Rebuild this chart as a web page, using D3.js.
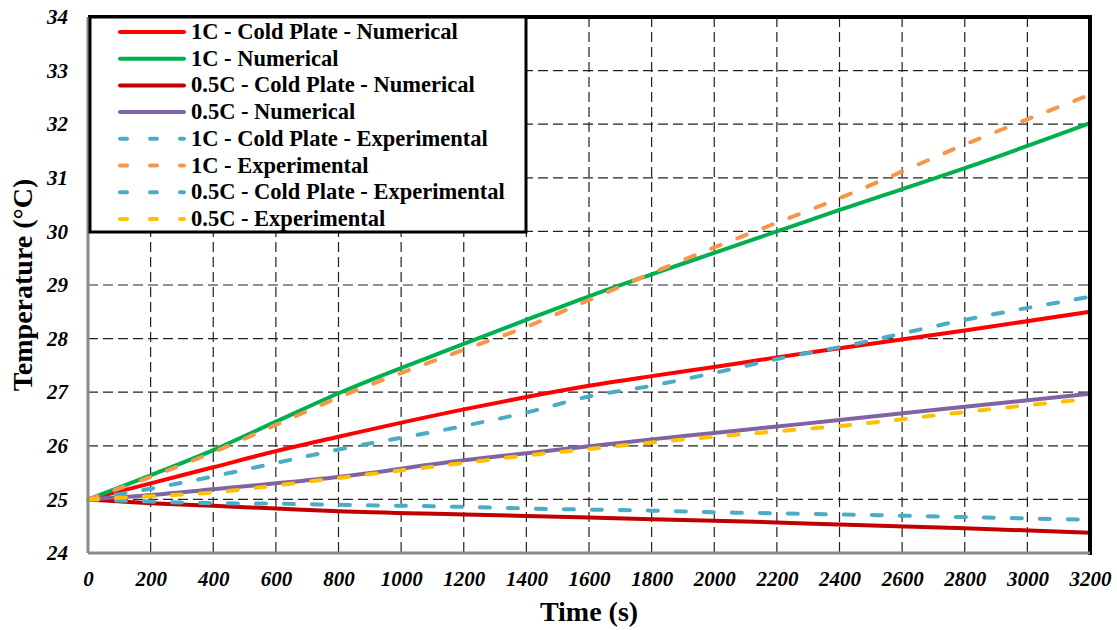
<!DOCTYPE html>
<html>
<head>
<meta charset="utf-8">
<script src="https://d3js.org/d3.v7.min.js"></script>
<style>
  body { margin: 0; background: #fff; }
  text { font-family: "Liberation Serif", "Times New Roman", serif; }
</style>
</head>
<body>
<script>
  var w = 1117
  var h = 630
  var margin = { top: 17, right: 27, bottom: 77, left: 88 }

  // time steps (s)
  var times = [0, 200, 400, 600, 800, 1200, 1400, 1600, 1800, 2000, 2200, 2400, 2800, 3200]

  // series values (°C)
  var cp1Num = [25, 25.3, 25.6, 25.9, 26.17, 26.68, 26.91, 27.12, 27.3, 27.47, 27.65, 27.82, 28.15, 28.5]
  var num1 = [25, 25.45, 25.92, 26.45, 26.98, 27.9, 28.35, 28.79, 29.2, 29.6, 30.0, 30.4, 31.18, 32.02]
  var cp05Num = [25, 24.93, 24.88, 24.83, 24.78, 24.72, 24.69, 24.66, 24.63, 24.6, 24.57, 24.53, 24.46, 24.38]
  var num05 = [25, 25.08, 25.19, 25.3, 25.42, 25.73, 25.86, 25.99, 26.12, 26.24, 26.36, 26.48, 26.73, 26.97]
  var cp1Exp = [25, 25.2, 25.43, 25.68, 25.93, 26.37, 26.62, 26.92, 27.12, 27.36, 27.62, 27.84, 28.35, 28.78]
  var exp1 = [25, 25.42, 25.88, 26.39, 26.9, 27.79, 28.22, 28.72, 29.22, 29.7, 30.16, 30.62, 31.62, 32.55]
  var cp05Exp = [25, 24.96, 24.93, 24.92, 24.9, 24.86, 24.83, 24.81, 24.79, 24.76, 24.74, 24.72, 24.67, 24.62]
  var exp05 = [25, 25.06, 25.13, 25.26, 25.4, 25.68, 25.82, 25.94, 26.06, 26.17, 26.27, 26.37, 26.63, 26.88]

  var xTicks = d3.range(0, 3201, 200)
  var yTicks = d3.range(24, 35, 1)

  var series = [
    { name: "1C - Cold Plate - Numerical", values: cp1Num, color: "#ff0000", dash: null },
    { name: "1C - Numerical", values: num1, color: "#00b050", dash: null },
    { name: "0.5C - Cold Plate - Numerical", values: cp05Num, color: "#c00000", dash: null },
    { name: "0.5C - Numerical", values: num05, color: "#8064a2", dash: null },
    { name: "1C - Cold Plate - Experimental", values: cp1Exp, color: "#4bacc6", dash: "10,18" },
    { name: "1C - Experimental", values: exp1, color: "#f79646", dash: "10,18" },
    { name: "0.5C - Cold Plate - Experimental", values: cp05Exp, color: "#4bacc6", dash: "10,18" },
    { name: "0.5C - Experimental", values: exp05, color: "#ffc000", dash: "10,18" }
  ]

  var pw = w - margin.left - margin.right
  var ph = h - margin.top - margin.bottom

  //SCALES
  var x = d3.scaleLinear().domain([0, 3200]).range([0, pw])
  var y = d3.scaleLinear().domain([24, 34]).range([ph, 0])

  var svg = d3.select("body").append("svg")
      .attr("width", w)
      .attr("height", h)

  var g = svg.append("g")
      .attr("transform", "translate(" + margin.left + "," + margin.top + ")")

  //GRID
  g.selectAll(".vgrid")
      .data(xTicks.slice(1, -1))
      .enter().append("line")
      .attr("x1", function (d) { return x(d) })
      .attr("x2", function (d) { return x(d) })
      .attr("y1", 0).attr("y2", ph)
      .attr("stroke", "#222").attr("stroke-width", 1.2)
      .attr("stroke-dasharray", "10,5")

  g.selectAll(".hgrid")
      .data(yTicks.slice(1, -1))
      .enter().append("line")
      .attr("y1", function (d) { return y(d) })
      .attr("y2", function (d) { return y(d) })
      .attr("x1", 0).attr("x2", pw)
      .attr("stroke", "#222").attr("stroke-width", 1.2)
      .attr("stroke-dasharray", "10,5")

  //LINES
  var line = d3.line()
      .x(function (d, i) { return x(times[i]) })
      .y(function (d) { return y(d) })
      .curve(d3.curveMonotoneX)

  g.selectAll(".series")
      .data(series)
      .enter().append("path")
      .attr("d", function (d) { return line(d.values) })
      .attr("fill", "none")
      .attr("stroke", function (d) { return d.color })
      .attr("stroke-width", 4)
      .attr("stroke-linecap", function (d) { return d.dash ? "round" : "butt" })
      .attr("stroke-dasharray", function (d) { return d.dash })

  //FRAME
  g.append("line").attr("x1", 0).attr("x2", pw).attr("y1", 0).attr("y2", 0)
      .attr("stroke", "#000").attr("stroke-width", 4)
  g.append("line").attr("x1", pw).attr("x2", pw).attr("y1", -2).attr("y2", ph + 2)
      .attr("stroke", "#000").attr("stroke-width", 4)
  g.append("line").attr("x1", 0).attr("x2", 0).attr("y1", 0).attr("y2", ph)
      .attr("stroke", "#8a8a8a").attr("stroke-width", 3)
  g.append("line").attr("x1", 0).attr("x2", pw).attr("y1", ph).attr("y2", ph)
      .attr("stroke", "#8a8a8a").attr("stroke-width", 3)

  //AXES
  var xAxis = d3.axisBottom(x).tickValues(xTicks).tickFormat(d3.format("d")).tickSize(0).tickPadding(18)
  var yAxis = d3.axisLeft(y).tickValues(yTicks).tickFormat(d3.format("d")).tickSize(0).tickPadding(20)

  var xa = g.append("g").attr("transform", "translate(0," + ph + ")").call(xAxis)
  var ya = g.append("g").call(yAxis)
  xa.select(".domain").remove()
  ya.select(".domain").remove()
  svg.selectAll(".tick text")
      .attr("font-size", "21px")
      .attr("font-weight", "bold")
      .attr("font-style", "italic")
      .attr("fill", "#000")

  svg.append("text")
      .attr("x", 589).attr("y", 621)
      .attr("text-anchor", "middle")
      .attr("font-size", "28px").attr("font-weight", "bold")
      .text("Time (s)")

  svg.append("text")
      .attr("transform", "translate(32," + (margin.top + ph / 2) + ") rotate(-90)")
      .attr("text-anchor", "middle")
      .attr("font-size", "28px").attr("font-weight", "bold")
      .text("Temperature (°C)")

  //LEGEND
  var lg = svg.append("g")
  lg.append("rect")
      .attr("x", 90).attr("y", 17)
      .attr("width", 436).attr("height", 215)
      .attr("fill", "#fff").attr("stroke", "#000").attr("stroke-width", 3)

  var item = lg.selectAll(".item")
      .data(series)
      .enter().append("g")
      .attr("transform", function (d, i) { return "translate(0," + (32 + i * 26.7) + ")" })

  item.append("line")
      .attr("x1", 120).attr("x2", 184).attr("y1", 0).attr("y2", 0)
      .attr("stroke", function (d) { return d.color })
      .attr("stroke-width", 4)
      .attr("stroke-linecap", "round")
      .attr("stroke-dasharray", function (d) { return d.dash ? "7,23" : null })

  item.append("text")
      .attr("x", 191).attr("y", 7)
      .attr("font-size", "22.5px").attr("font-weight", "bold")
      .text(function (d) { return d.name })
</script>
</body>
</html>
